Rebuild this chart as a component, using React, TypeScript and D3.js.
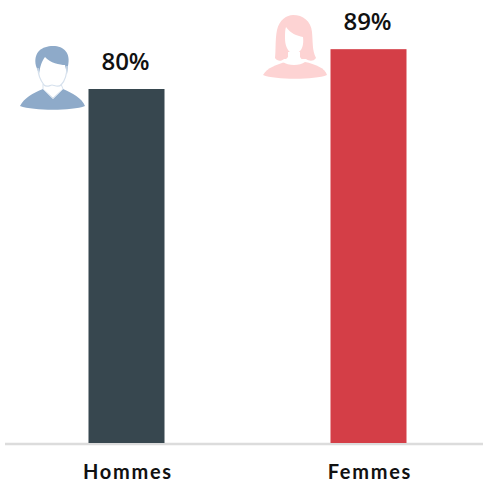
import React from "react";
import * as d3 from "d3";

const categories = ["Hommes", "Femmes"];
const shares = [80, 89];
const barColors = ["#37474f", "#d43e47"];

const SIZE = 483;
const font = "'Open Sans', sans-serif";
const axisFont = "Lato, sans-serif";

// Man pictogram: hair and shoulders in blue, face and collar left white.
function ManIcon() {
  const blue = "#8eaac9";
  return (
    <g filter="url(#soft)">
      <path d="M20 106 C24 98 33 93 43 89 L53 99 L63 89 C72 93 82 98 85 106 C72 111 34 111 20 106 Z" fill={blue} />
      <path d="M36 66 C33 52 42 46 53 46 C64 46 71 53 68 66 L67 74 L65 65 C60 65 50 63 45 57 C42 61 40 66 39 74 Z" fill={blue} />
      <path d="M38 68 C38 76 41 81 44 85 C47 88 50 85 52 85 C54 85 58 88 61 85 C65 81 67 76 67 66" fill="none" stroke="#d6e1ed" strokeWidth={1.2} />
      <path d="M43 84 L43 89 L53 98 L63 89 L61 84" fill="none" stroke="#d6e1ed" strokeWidth={1} />
    </g>
  );
}

// Woman pictogram: long hair and shoulders in pale pink over a white face.
function WomanIcon() {
  const pink = "#fdd3d3";
  return (
    <g filter="url(#soft)">
      <path d="M263 75 C267 68 277 64 286 62 L305 62 C315 64 325 68 327 75 C315 80 275 80 263 75 Z" fill={pink} />
      <path d="M275 58 C276 50 275 40 277 30 C279 20 287 15 293 15 C303 15 311 21 312 32 C313 42 312 50 316 58 C313 62 309 61 306 59 L284 59 C281 62 277 61 275 58 Z" fill={pink} />
      <path d="M286 27 C290 33 297 36 303 37 C304 45 302 51 297 53 C295 54 293 54 291 53 C287 50 285 45 285 38 C285 33 285 30 286 27 Z" fill="#ffffff" />
      <path d="M288 52 L288 57 C285 60 284 61 283 62 C288 66 300 66 305 62 C304 61 302 60 300 57 L300 52 Z" fill="#ffffff" />
    </g>
  );
}

export default function App() {
  const x = d3.scaleBand<string>().domain(categories).range([5.5, 489.5]).paddingInner(166 / 242).paddingOuter(83 / 242);
  const y = d3.scaleLinear().domain([0, 80]).range([443, 89]);

  return (
    <svg width={SIZE} height={SIZE} style={{ position: "absolute", left: 0, top: 0, background: "#fff" }}>
      <defs>
        <filter id="soft" x="-10%" y="-10%" width="120%" height="120%">
          <feGaussianBlur stdDeviation={0.5} />
        </filter>
      </defs>
      <line x1={5} x2={SIZE} y1={444} y2={444} stroke="#dcdcdc" strokeWidth={2.5} />
      {categories.map((c, i) => (
        <g key={c}>
          <rect x={x(c)} y={y(shares[i])} width={x.bandwidth()} height={y(0) - y(shares[i])} fill={barColors[i]} />
          <text x={x(c)! + x.bandwidth() / 2 - 1} y={y(shares[i]) - 19.5} textAnchor="middle" fontFamily={font} fontWeight={600} fontSize={24} fill="#111">
            {shares[i]}%
          </text>
          <text x={x(c)! + x.bandwidth() / 2 + 1.4} y={479} textAnchor="middle" fontFamily={axisFont} fontWeight={700} fontSize={20} letterSpacing={1.7} fill="#111">
            {c}
          </text>
        </g>
      ))}
      <ManIcon />
      <WomanIcon />
    </svg>
  );
}
